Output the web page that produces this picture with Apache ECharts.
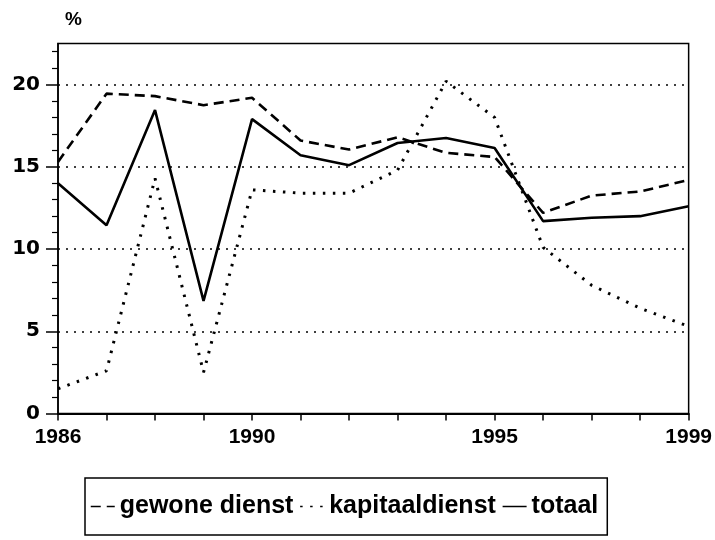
<!DOCTYPE html>
<html>
<head>
<meta charset="utf-8">
<script src="https://cdn.jsdelivr.net/npm/echarts@6/dist/echarts.min.js"></script>
<style>
  html, body { margin: 0; padding: 0; background: #fff; }
  #chart { width: 715px; height: 540px; }
</style>
</head>
<body>
<div id="chart"></div>
<script>
// Jaren en percentages per dienst
const years = [1986, 1987, 1988, 1989, 1990, 1991, 1992, 1993, 1994, 1995, 1996, 1997, 1998, 1999];
const gewoneDienst = [15.3, 19.45, 19.3, 18.75, 19.2, 16.6, 16.05, 16.8, 15.85, 15.6, 12.2, 13.25, 13.5, 14.2];
const kapitaalDienst = [1.5, 2.6, 14.3, 2.5, 13.6, 13.4, 13.4, 14.8, 20.2, 18.0, 10.1, 7.8, 6.4, 5.3];
const totaal = [14.0, 11.45, 18.45, 6.85, 17.9, 15.7, 15.1, 16.45, 16.75, 16.15, 11.7, 11.9, 12.0, 12.6];

const yearLabels = [1986, 1990, 1995, 1999];
const yMajor = [0, 5, 10, 15, 20];
const yMinor = [1, 2, 3, 4, 6, 7, 8, 9, 11, 12, 13, 14, 16, 17, 18, 19, 21, 22];

const pairs = (vals) => years.map((y, i) => [y, vals[i]]);

const chart = echarts.init(document.getElementById('chart'), null, { renderer: 'canvas' });

chart.setOption({
  backgroundColor: '#ffffff',
  animation: false,
  title: {
    text: '%',
    left: 60,
    top: 5,
    textStyle: { fontFamily: 'Liberation Sans', fontWeight: 'bold', fontSize: 19, color: '#000' }
  },
  grid: {
    left: 58, right: 26, top: 43.5, bottom: 126.5,
    show: true, borderColor: '#000', borderWidth: 1.5
  },
  xAxis: {
    type: 'value',
    min: 1986, max: 1999, interval: 1,
    axisLine: { onZero: false, lineStyle: { color: '#000', width: 2 } },
    axisTick: { length: 7, lineStyle: { color: '#000', width: 1.5 } },
    axisLabel: {
      customValues: yearLabels,
      margin: 13,
      color: '#000',
      fontFamily: 'Liberation Sans', fontWeight: 'bold', fontSize: 21,
      formatter: (v) => String(v)
    },
    splitLine: { show: false }
  },
  yAxis: [
    {
      type: 'value',
      min: 0, max: 22.5, interval: 5,
      axisLine: { show: true, lineStyle: { color: '#000', width: 1.5 } },
      axisTick: { show: true, customValues: yMajor, length: 12, lineStyle: { color: '#000', width: 1.5 } },
      axisLabel: {
        customValues: yMajor,
        margin: 18,
        color: '#000',
        fontFamily: 'DejaVu Sans', fontWeight: 'bold', fontSize: 20
      },
      splitLine: { show: true, lineStyle: { color: '#000', width: 1.5, type: [2, 6] } }
    },
    {
      type: 'value',
      min: 0, max: 22.5, interval: 1,
      position: 'left',
      axisLine: { show: false },
      axisTick: { show: true, customValues: yMinor, length: 6, lineStyle: { color: '#000', width: 1.2 } },
      axisLabel: { show: false },
      splitLine: { show: false }
    }
  ],
  legend: {
    left: 85, top: 478,
    orient: 'horizontal',
    data: ['gewone dienst', 'kapitaaldienst', 'totaal'],
    itemWidth: 24, itemHeight: 14, itemGap: 6,
    padding: [16, 9, 16, 5],
    borderColor: '#000', borderWidth: 1.5,
    itemStyle: { opacity: 0 },
    lineStyle: { width: 1.5 },
    textStyle: { fontFamily: 'Liberation Sans', fontWeight: 'bold', fontSize: 25, color: '#000' }
  },
  series: [
    {
      name: 'gewone dienst', type: 'line', data: pairs(gewoneDienst),
      symbol: 'none',
      lineStyle: { color: '#000', width: 2.6, type: [10, 6] },
      itemStyle: { color: '#000' }
    },
    {
      name: 'kapitaaldienst', type: 'line', data: pairs(kapitaalDienst),
      symbol: 'none',
      lineStyle: { color: '#000', width: 3, type: [2.5, 7.5] },
      itemStyle: { color: '#000' }
    },
    {
      name: 'totaal', type: 'line', data: pairs(totaal),
      symbol: 'none',
      lineStyle: { color: '#000', width: 2.6 },
      itemStyle: { color: '#000' }
    }
  ]
});
</script>
</body>
</html>
